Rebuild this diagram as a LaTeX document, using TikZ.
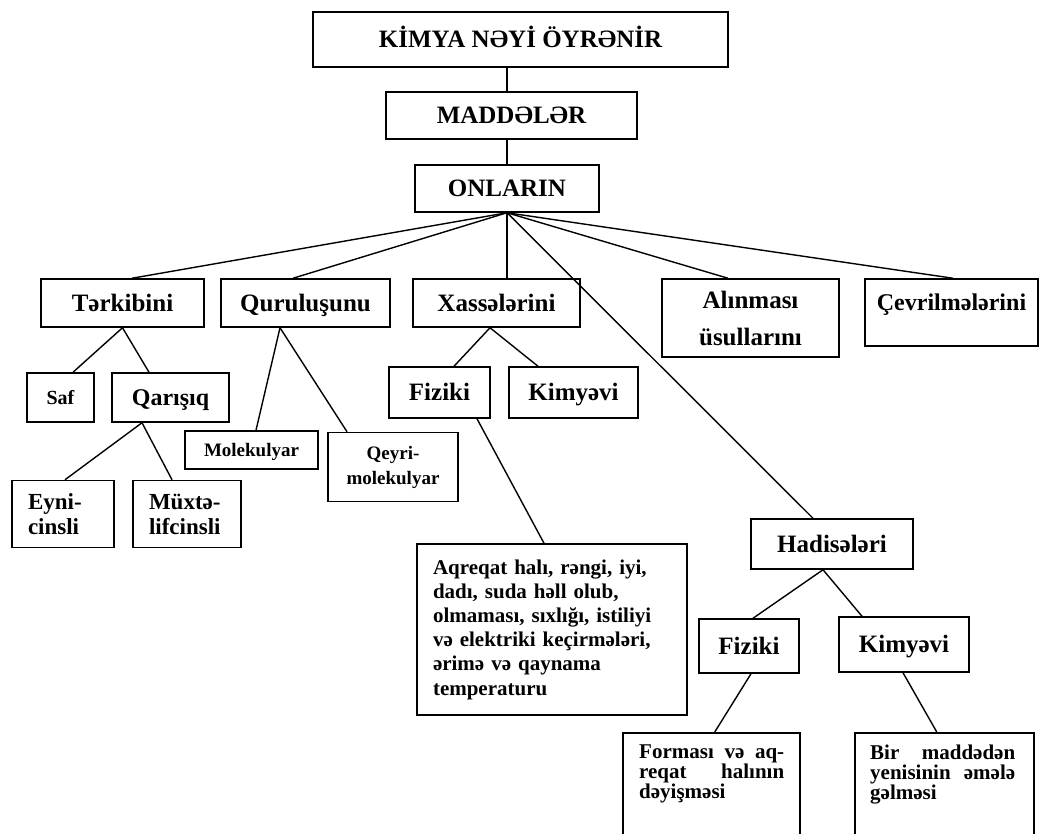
\documentclass[tikz,border=0pt]{standalone}
\usepackage{fontspec}
\setmainfont{Liberation Serif}
\usetikzlibrary{positioning,calc}
\tikzset{
  box/.style={draw, line width=1.5pt, inner sep=0pt, align=center, font=\bfseries\fontsize{25}{30}\selectfont},
  sline/.style={text height=#1, text depth=1pt},
  sline/.default=17pt,
  txt/.style={inner sep=0pt, align=left, font=\bfseries\fontsize{21}{20}\selectfont},
  link/.style={line width=1.4pt},
}
\begin{document}
\begin{tikzpicture}[x=1pt,y=-1pt]
\useasboundingbox (0,0) rectangle (1040,834);
\clip (0,0) rectangle (1040,834);
\node[box, sline, minimum width=415, minimum height=55] (kimya) at (520.5,39.5) {KİMYA NƏYİ ÖYRƏNİR};
\node[box, sline, minimum width=251, minimum height=47] (madde) at (511.5,115.5) {MADDƏLƏR};
\node[box, sline, minimum width=184, minimum height=47] (onlar) at (507,188.5) {ONLARIN};
% second row
\node[box, sline, minimum width=163, minimum height=48] (terk) at (122.5,303) {Tərkibini};
\node[box, sline, minimum width=169, minimum height=48] (qurul) at (305.5,303) {Quruluşunu};
\node[box, sline, minimum width=167, minimum height=48] (xass) at (496.5,303) {Xassələrini};
\node[box, minimum width=177, minimum height=78, font=\bfseries\fontsize{25}{37}\selectfont] (alin) at (750.5,318) {Alınması\\üsullarını};
\node[box, minimum width=173, text height=31pt, text depth=36pt, font=\bfseries\fontsize{24}{28}\selectfont] (cevr) at (951.5,312.5) {Çevrilmələrini};
% third row
\node[box, sline=14pt, minimum width=67, minimum height=49, font=\bfseries\fontsize{20}{24}\selectfont] (saf) at (60.5,397.5) {Saf};
\node[box, sline=16pt, minimum width=117, minimum height=49, font=\bfseries\fontsize{24}{28}\selectfont] (qaris) at (170.5,397.5) {Qarışıq};
\node[box, sline=13pt, minimum width=133, minimum height=38, font=\bfseries\fontsize{19}{25}\selectfont] (molek) at (251.5,450) {Molekulyar};
\node[box, minimum width=130, minimum height=69, font=\bfseries\fontsize{19}{25}\selectfont] (qeyri) at (393,467) {Qeyri-\\molekulyar};
\node[box, minimum width=102, minimum height=67, inner xsep=16pt, text width=70pt, align=left, font=\bfseries\fontsize{23}{25}\selectfont] (eyni) at (63,514) {Eyni-\\cinsli};
\node[box, minimum width=108, minimum height=67, inner xsep=16pt, text width=76pt, align=left, font=\bfseries\fontsize{23}{25}\selectfont] (muxt) at (187,514) {Müxtə-\\lifcinsli};
\node[box, sline, minimum width=101, minimum height=51] (fiz) at (439.5,392.5) {Fiziki};
\node[box, sline, minimum width=129, minimum height=51] (kim) at (573.5,392.5) {Kimyəvi};
\node[box, minimum height=171, inner xsep=16pt, text width=238pt, align=left, font=\bfseries\fontsize{21}{24.2}\selectfont] (info) at (552,629.5) {Aqreqat halı, rəngi, iyi,\\dadı, suda həll olub,\\olmaması, sıxlığı, istiliyi\\və elektriki keçirmələri,\\ərimə və qaynama\\temperaturu};
% hadiseler
\node[box, sline, minimum width=162, minimum height=50] (hadis) at (832,544) {Hadisələri};
\node[box, sline, minimum width=100, minimum height=54] (fiz2) at (749,646) {Fiziki};
\node[box, sline, minimum width=130, minimum height=55] (kim2) at (904,644.5) {Kimyəvi};
\node[box, minimum width=177, minimum height=140, anchor=north west] (forma) at (622,732) {};
\node[txt, text width=145pt, below right=13pt and 17pt of forma.north west] (formatxt) {Forması\hfill və\hfill aq-\\reqat\hfill halının\\dəyişməsi};
\node[box, minimum width=179, minimum height=140, anchor=north west] (bir) at (854,732) {};
\node[txt, text width=145pt, below right=13pt and 16pt of bir.north west] (birtxt) {Bir\hfill maddədən\\yenisinin\hfill əmələ\\gəlməsi};
% connectors
\draw[link] (kimya.south -| onlar) -- (madde.north -| onlar);
\draw[link] (madde.south -| onlar) -- (onlar.north);
\coordinate (hub) at (onlar.south);
\draw[link] (hub) -- ($(terk.north)+(9.5,0)$);
\draw[link] (hub) -- ($(qurul.north)+(-12.5,0)$);
\draw[link] (hub) -- (hub |- xass.north);
\draw[link] (hub) -- ($(hadis.north)+(-19,0)$);
\draw[link] (hub) -- ($(alin.north)+(-22.5,0)$);
\draw[link] (hub) -- ($(cevr.north)+(1.5,0)$);
\draw[link] (terk.south) -- ($(saf.north)+(12.5,0)$);
\draw[link] (terk.south) -- ($(qaris.north)+(-21.5,0)$);
\draw[link] ($(qurul.south)+(-25.5,0)$) -- ($(molek.north)+(4.5,0)$);
\draw[link] ($(qurul.south)+(-25.5,0)$) -- ($(qeyri.north)+(-46,0)$);
\draw[link] ($(qaris.south)+(-28.5,0)$) -- ($(eyni.north)+(2,0)$);
\draw[link] ($(qaris.south)+(-28.5,0)$) -- ($(muxt.north)+(-15,0)$);
\draw[link] ($(xass.south)+(-6.5,0)$) -- ($(fiz.north)+(14.5,0)$);
\draw[link] ($(xass.south)+(-6.5,0)$) -- ($(kim.north)+(-35.5,0)$);
\draw[link] ($(fiz.south)+(37.5,0)$) -- ($(info.north)+(-8,0)$);
\draw[link] ($(hadis.south)+(-9,0)$) -- ($(fiz2.north)+(4,0)$);
\draw[link] ($(hadis.south)+(-9,0)$) -- ($(kim2.north)+(-42,0)$);
\draw[link] ($(fiz2.south)+(2,0)$) -- ($(forma.north)+(3.5,0)$);
\draw[link] ($(kim2.south)+(-1,0)$) -- ($(bir.north)+(-7.5,0)$);
\end{tikzpicture}
\end{document}
